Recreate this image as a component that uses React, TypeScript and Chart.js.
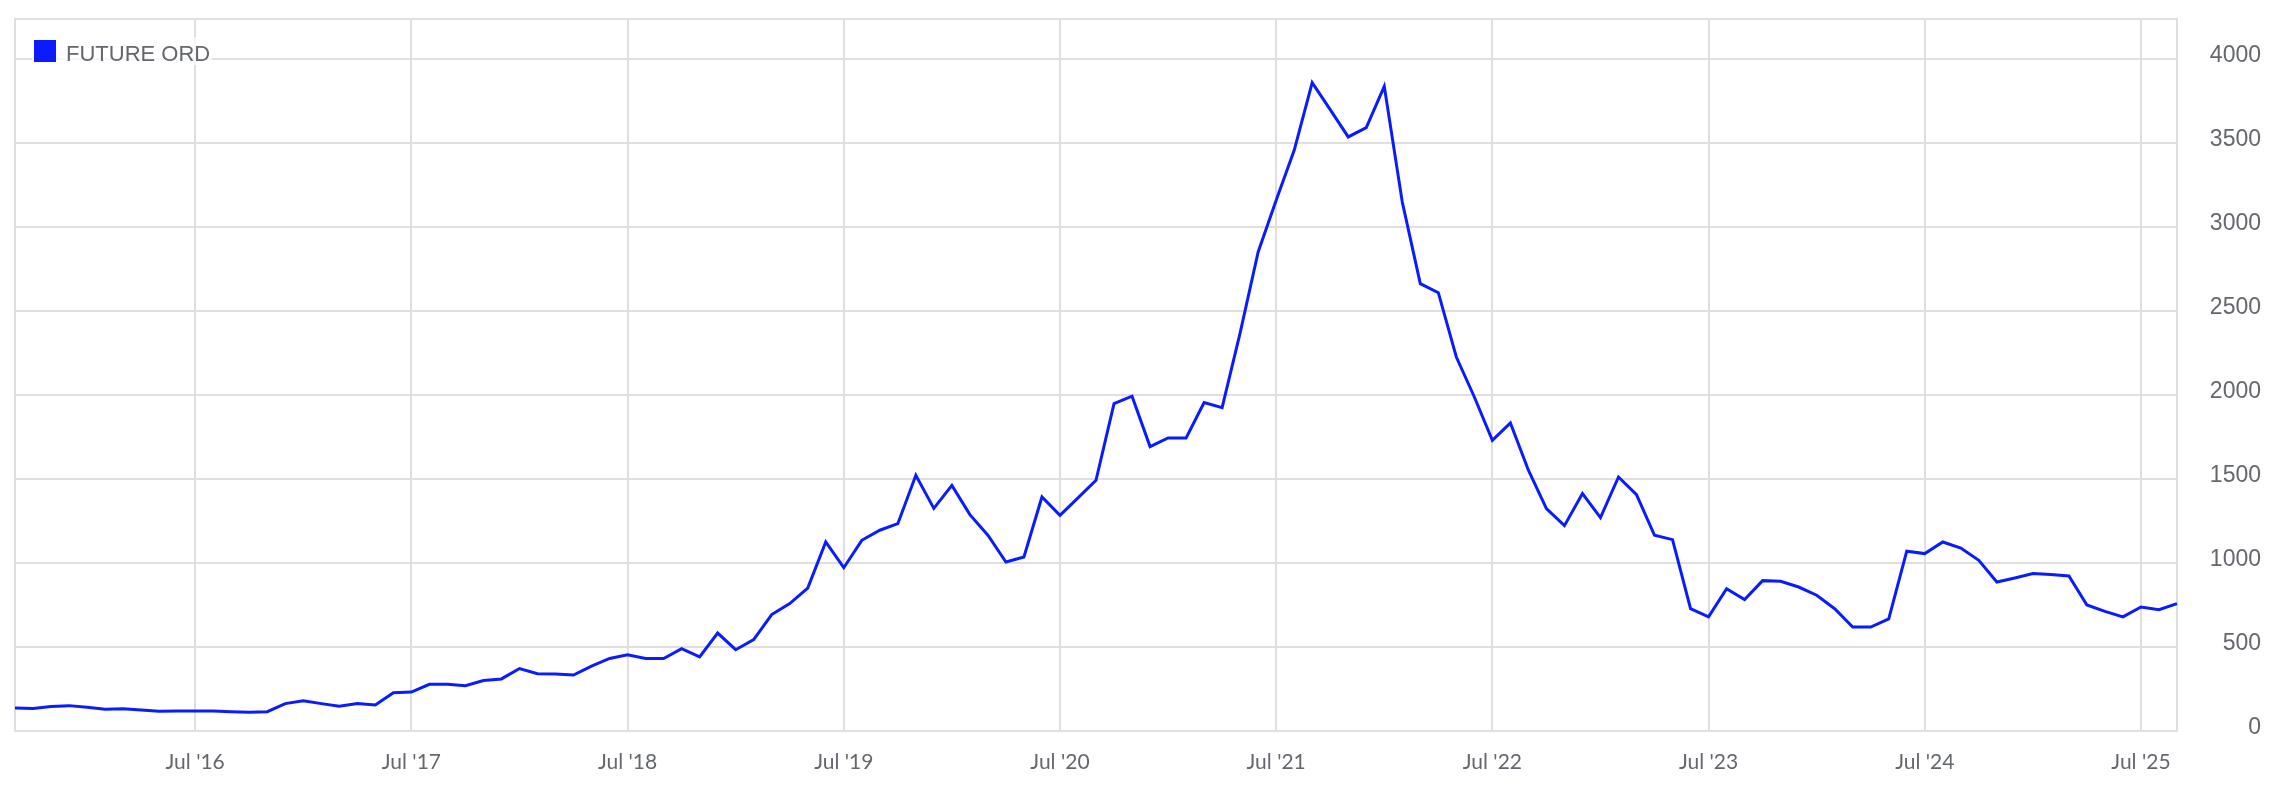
import React, { useEffect, useRef } from "react";
import { Chart, registerables } from "chart.js";

Chart.register(...registerables);

const SERIES_LABEL = "FUTURE ORD";
const FIRST_YEAR = 2015;
const FIRST_MONTH_INDEX = 8; // September
const MONTH_COUNT = 121;

const VALUES = [
  137, 134, 146, 151, 141, 129, 133, 125, 117, 119,
  119, 119, 115, 111, 115, 163, 180, 163, 147, 163,
  155, 228, 232, 278, 278, 270, 300, 310, 372, 341,
  339, 333, 386, 432, 453, 431, 431, 490, 441, 583,
  484, 544, 693, 758, 851, 1125, 972, 1135, 1195, 1234,
  1522, 1325, 1462, 1288, 1165, 1006, 1036, 1393, 1284, 1388,
  1492, 1949, 1993, 1693, 1744, 1744, 1955, 1925, 2370, 2851,
  3159, 3456, 3859, 3699, 3536, 3591, 3837, 3149, 2663, 2609,
  2226, 1988, 1730, 1834, 1552, 1324, 1222, 1413, 1270, 1512,
  1407, 1165, 1139, 728, 679, 847, 782, 895, 891, 857,
  808, 728, 619, 619, 667, 1070, 1056, 1125, 1089, 1016,
  887, 911, 937, 931, 923, 750, 712, 679, 738, 722,
  758,
];

const TICK_MONTHS = [
  "2016-07", "2017-07", "2018-07", "2019-07", "2020-07",
  "2021-07", "2022-07", "2023-07", "2024-07", "2025-07",
];
const TICK_LABELS = [
  "Jul '16", "Jul '17", "Jul '18", "Jul '19", "Jul '20",
  "Jul '21", "Jul '22", "Jul '23", "Jul '24", "Jul '25",
];
const Y_TICKS = [0, 500, 1000, 1500, 2000, 2500, 3000, 3500, 4000];
const Y_MAX = 4238;

function buildMonths(): string[] {
  const out: string[] = [];
  for (let k = 0; k < MONTH_COUNT; k++) {
    const m = FIRST_MONTH_INDEX + k;
    const y = FIRST_YEAR + Math.floor(m / 12);
    const mm = (m % 12) + 1;
    out.push(`${y}-${mm < 10 ? "0" + mm : mm}`);
  }
  return out;
}
const MONTHS = buildMonths();

const LINE_COLOR = "#0a1cff";
const GRID_COLOR = "#dfdfdf";
const TEXT_COLOR = "#64676d";

const framePlugin = {
  id: "frameAndLegend",
  beforeDatasetsDraw(chart: any) {
    const { ctx, chartArea: a } = chart;
    ctx.save();
    ctx.strokeStyle = GRID_COLOR;
    ctx.lineWidth = 2;
    ctx.strokeRect(a.left, a.top, a.right - a.left, a.bottom - a.top);
    ctx.restore();
  },
  afterDraw(chart: any) {
    const { ctx, chartArea: a } = chart;
    const ds = chart.data.datasets[0];
    ctx.save();
    ctx.font = "22px 'Liberation Sans', Arial, sans-serif";
    const tw = ctx.measureText(ds.label).width;
    const bx = a.left + 19;
    const by = a.top + 21;
    ctx.fillStyle = "rgba(255,255,255,0.7)";
    ctx.fillRect(bx - 2, by - 3, 32 + tw + 4, 28);
    ctx.fillStyle = ds.borderColor;
    ctx.fillRect(bx, by, 22, 22);
    ctx.fillStyle = TEXT_COLOR;
    ctx.textBaseline = "alphabetic";
    ctx.textAlign = "left";
    ctx.fillText(ds.label, bx + 32, by + 21);
    ctx.restore();
  },
};

export default function App() {
  const canvasRef = useRef<HTMLCanvasElement | null>(null);

  useEffect(() => {
    const canvas = canvasRef.current;
    if (!canvas) return;
    const chart = new Chart(canvas, {
      type: "line",
      data: {
        labels: MONTHS,
        datasets: [
          {
            label: SERIES_LABEL,
            data: VALUES,
            borderColor: LINE_COLOR,
            backgroundColor: LINE_COLOR,
            borderWidth: 3,
            pointRadius: 0,
            pointHoverRadius: 0,
            tension: 0,
            fill: false,
          },
        ],
      },
      options: {
        animation: false,
        responsive: true,
        maintainAspectRatio: false,
        layout: { padding: { left: 7, top: 11, right: 17, bottom: 0 } },
        plugins: {
          legend: { display: false },
          tooltip: { enabled: false },
        },
        scales: {
          x: {
            type: "category",
            offset: false,
            border: { display: false },
            grid: {
              drawTicks: false,
              lineWidth: 2,
              color: (ctx: any) =>
                TICK_MONTHS.indexOf(MONTHS[ctx.index]) >= 0 ? GRID_COLOR : "rgba(0,0,0,0)",
            },
            ticks: {
              autoSkip: false,
              maxRotation: 0,
              minRotation: 0,
              padding: 19,
              color: TEXT_COLOR,
              font: { family: "Lato, Roboto, sans-serif", size: 21 },
              callback: (_v: any, idx: number) => {
                const k = TICK_MONTHS.indexOf(MONTHS[idx]);
                return k >= 0 ? TICK_LABELS[k] : "";
              },
            },
            afterFit: (scale: any) => {
              scale.paddingLeft = 0;
              scale.paddingRight = 0;
              scale.height = 57;
            },
          },
          y: {
            type: "linear",
            position: "right",
            min: 0,
            max: Y_MAX,
            border: { display: false },
            grid: { drawTicks: false, lineWidth: 2, color: GRID_COLOR },
            afterBuildTicks: (scale: any) => {
              scale.ticks = Y_TICKS.map((v) => ({ value: v }));
            },
            ticks: {
              crossAlign: "far",
              padding: 35,
              labelOffset: -3,
              color: TEXT_COLOR,
              font: { family: "'Liberation Sans', Arial, sans-serif", size: 23 },
              callback: (v: any) => String(v),
            },
            afterFit: (scale: any) => {
              scale.width = 84;
              scale.paddingTop = 0;
              scale.paddingBottom = 0;
            },
          },
        },
      },
      plugins: [framePlugin],
    } as any);
    return () => chart.destroy();
  }, []);

  return (
    <div style={{ width: 2270, height: 780, position: "relative" }}>
      <canvas ref={canvasRef} />
    </div>
  );
}
